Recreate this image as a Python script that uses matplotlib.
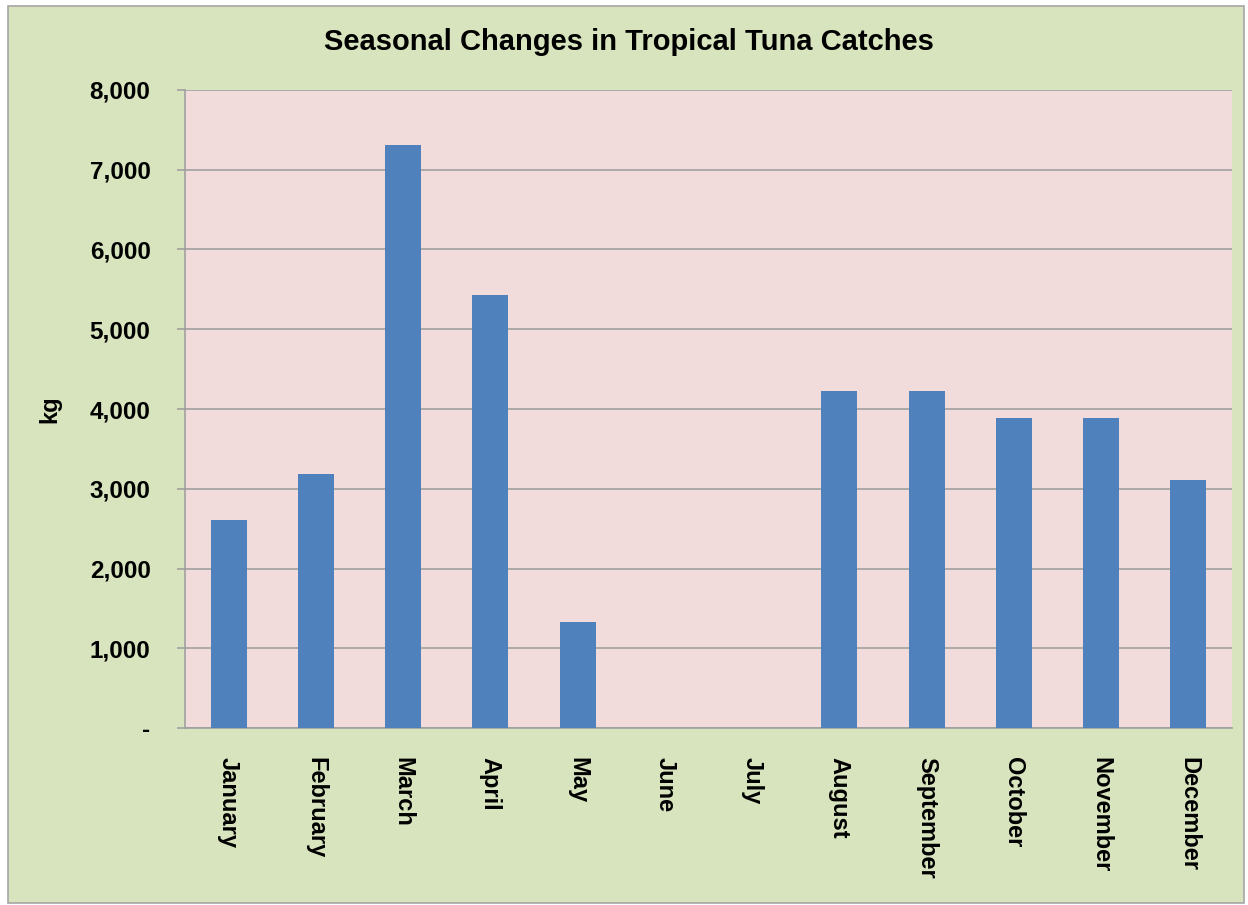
import matplotlib
matplotlib.use("Agg")
import matplotlib.pyplot as plt
from matplotlib.patches import Rectangle
from matplotlib.ticker import FuncFormatter

MONTHS = ['January', 'February', 'March', 'April', 'May', 'June', 'July',
          'August', 'September', 'October', 'November', 'December']
CATCH_KG = [2610, 3180, 7310, 5430, 1330, 0, 0, 4230, 4230, 3890, 3890, 3110]
Y_TICKS = [0, 1000, 2000, 3000, 4000, 5000, 6000, 7000, 8000]

W, H = 1248, 905


def fmt(v, _pos):
    return '-' if v == 0 else f'{int(v):,}'


def main():
    plt.rcParams['font.family'] = ['Liberation Sans', 'DejaVu Sans']
    fig = plt.figure(figsize=(W / 100, H / 100), dpi=100)
    fig.patch.set_facecolor('white')
    fig.patches.append(Rectangle((8 / W, 1 - 903 / H), 1236 / W, 897 / H,
                                 transform=fig.transFigure, facecolor='#D7E4BD',
                                 edgecolor='#A6A6A6', lw=1.2, zorder=-1))

    ax = fig.add_axes([185 / W, 1 - 728 / H, (1232 - 185) / W, (728 - 90) / H])
    ax.set_facecolor('#F2DCDB')
    x = range(len(MONTHS))
    ax.bar(x, CATCH_KG, width=0.41, color='#4F81BD', zorder=3)
    ax.set_xlim(-0.5, len(MONTHS) - 0.5)
    ax.set_ylim(0, 8000)
    ax.set_yticks(Y_TICKS)
    ax.yaxis.set_major_formatter(FuncFormatter(fmt))
    ax.yaxis.grid(True, color='#A0A0A0', lw=1.2, zorder=1)
    ax.set_axisbelow(True)
    ax.set_xticks(list(x))
    ax.set_xticklabels(MONTHS, rotation=270, fontsize=17, fontweight='bold',
                       va='top', ha='center')
    ax.tick_params(axis='x', length=0, pad=21)
    ax.tick_params(axis='y', length=5.8, width=1.2, color='#A0A0A0',
                   labelsize=17.5, pad=19)
    for lbl in ax.get_yticklabels():
        lbl.set_fontweight('bold')
    for side in ['top', 'right']:
        ax.spines[side].set_visible(False)
    for side in ['left', 'bottom']:
        ax.spines[side].set_color('#A0A0A0')
        ax.spines[side].set_linewidth(1.2)
    ax.set_ylabel('kg', fontsize=17, fontweight='bold')
    ax.yaxis.set_label_coords(-124 / (1232 - 185), 0.5)

    fig.text(629 / W, 1 - 42 / H, 'Seasonal Changes in Tropical Tuna Catches',
             ha='center', va='center', fontsize=21, fontweight='bold')

    fig.savefig('out.png', dpi=100)


if __name__ == '__main__':
    main()
